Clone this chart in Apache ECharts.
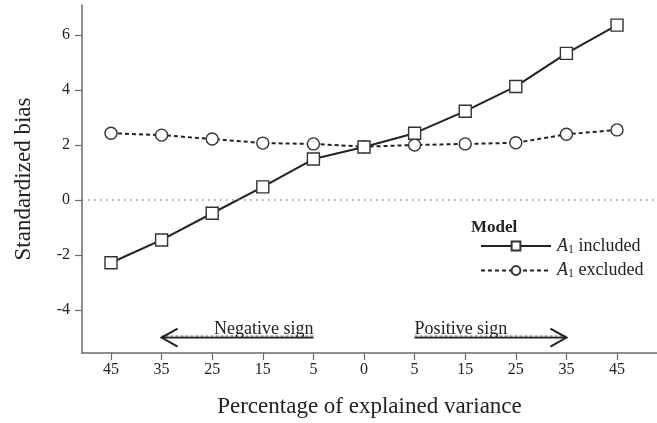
<!DOCTYPE html>
<html>
<head>
<meta charset="utf-8">
<script src="https://cdn.jsdelivr.net/npm/echarts@6/dist/echarts.min.js"></script>
<style>
  html, body { margin: 0; padding: 0; background: #fff; }
  #chart { width: 657px; height: 423px; }
</style>
</head>
<body>
<div id="chart"></div>
<script>
// x positions (category index) and their printed labels
const tickLabels = ['45', '35', '25', '15', '5', '0', '5', '15', '25', '35', '45']
const yTicks = [-4, -2, 0, 2, 4, 6]

// standardized bias
const includedVals = [-2.28, -1.45, -0.48, 0.48, 1.49, 1.93, 2.43, 3.23, 4.13, 5.33, 6.36]
const excludedVals = [2.43, 2.36, 2.22, 2.07, 2.04, 1.94, 2.0, 2.04, 2.08, 2.39, 2.55]

// sign arrows: from index, to index, height, label
const arrowFrom = [4, 6]
const arrowTo = [1, 9]
const arrowY = [-5, -5]
const arrowText = ['Negative sign', 'Positive sign']

const serif = 'Liberation Serif'
const ink = '#222'
const axisGray = '#6a6a6a'

const chart = echarts.init(document.getElementById('chart'))

const toPairs = vals => vals.map((v, i) => [i, v])

chart.setOption({
    animation: false,
    backgroundColor: '#fff',
    textStyle: { fontFamily: serif },
    grid: { left: 82, right: 0, top: 5, bottom: 70 },
    title: {
        text: 'Model',
        left: 466,
        top: 214,
        textStyle: { fontFamily: serif, fontWeight: 'bold', fontSize: 17, color: ink }
    },
    legend: {
        data: ['A1 included', 'A1 excluded'],
        orient: 'vertical',
        left: 475,
        top: 232,
        itemWidth: 70,
        itemHeight: 11,
        itemGap: 6,
        formatter: name => '{it|A}{sub|1}' + name.slice(2),
        textStyle: {
            fontFamily: serif,
            fontSize: 18,
            color: ink,
            padding: [0, 0, 0, 1],
            rich: {
                it: { fontFamily: serif, fontStyle: 'italic', fontSize: 18, color: ink },
                sub: { fontFamily: serif, fontSize: 12, color: ink, verticalAlign: 'bottom', padding: [7, 0, 0, 0] }
            }
        }
    },
    xAxis: {
        type: 'value',
        min: -0.573,
        max: 10.79,
        name: 'Percentage of explained variance',
        nameLocation: 'middle',
        nameGap: 42,
        nameTextStyle: { fontFamily: serif, fontSize: 23, color: ink },
        axisLine: { show: true, onZero: false, lineStyle: { color: axisGray, width: 1.5 } },
        axisTick: { show: true, length: 7, lineStyle: { color: axisGray, width: 1.2 }, customValues: tickLabels.map((t, i) => i) },
        axisLabel: {
            fontFamily: serif, fontSize: 16, color: ink, margin: 9,
            customValues: tickLabels.map((t, i) => i),
            formatter: v => tickLabels[Math.round(v)]
        },
        splitLine: { show: false }
    },
    yAxis: {
        type: 'value',
        min: -5.56,
        max: 7.09,
        name: 'Standardized bias',
        nameLocation: 'middle',
        nameGap: 47,
        nameTextStyle: { fontFamily: serif, fontSize: 23, color: ink },
        axisLine: { show: true, onZero: false, lineStyle: { color: axisGray, width: 1.5 } },
        axisTick: { show: true, length: 7, lineStyle: { color: axisGray, width: 1.2 }, customValues: yTicks },
        axisLabel: {
            fontFamily: serif, fontSize: 16, color: ink, margin: 12,
            customValues: yTicks,
            formatter: v => String(v)
        },
        splitLine: { show: false }
    },
    series: [
        {
            name: 'A1 excluded',
            type: 'line',
            data: toPairs(excludedVals),
            symbol: 'circle',
            symbolSize: 12,
            itemStyle: { color: '#fff', borderColor: '#333', borderWidth: 1.4 },
            lineStyle: { color: ink, width: 2, type: [4, 3] },
            z: 3,
            markLine: {
                silent: true,
                symbol: 'none',
                label: { show: false },
                lineStyle: { color: '#8a8a8a', width: 1.5, type: [1.5, 4.5] },
                data: [{ yAxis: 0 }]
            }
        },
        {
            name: 'A1 included',
            type: 'line',
            data: toPairs(includedVals),
            symbol: 'rect',
            symbolSize: 12,
            itemStyle: { color: '#fff', borderColor: '#333', borderWidth: 1.4 },
            lineStyle: { color: ink, width: 2, type: 'solid' },
            z: 4
        },
        {
            name: 'arrows',
            type: 'custom',
            clip: false,
            silent: true,
            data: arrowFrom.map((f, i) => [f, arrowTo[i], arrowY[i], arrowText[i]]),
            renderItem: (params, api) => {
                const from = api.coord([api.value(0), api.value(2)])
                const to = api.coord([api.value(1), api.value(2)])
                const dir = Math.sign(to[0] - from[0])
                const text = arrowText[params.dataIndex]
                return {
                    type: 'group',
                    children: [
                        {
                            type: 'line',
                            shape: { x1: from[0], y1: from[1], x2: to[0], y2: to[1] },
                            style: { stroke: ink, lineWidth: 1.6 }
                        },
                        {
                            type: 'line',
                            shape: { x1: from[0], y1: from[1] - 1.5, x2: to[0], y2: to[1] - 1.5 },
                            style: { stroke: '#555', lineWidth: 1, lineDash: [3, 2] }
                        },
                        {
                            type: 'polyline',
                            shape: { points: [[to[0] - dir * 16, to[1] - 9], to, [to[0] - dir * 16, to[1] + 9]] },
                            style: { stroke: ink, lineWidth: 2, fill: null }
                        },
                        {
                            type: 'text',
                            x: from[0],
                            y: from[1] + 1,
                            style: {
                                text: text,
                                fontFamily: serif,
                                fontSize: 18,
                                fill: ink,
                                align: dir < 0 ? 'right' : 'left',
                                verticalAlign: 'bottom'
                            }
                        }
                    ]
                }
            }
        }
    ]
})
</script>
</body>
</html>
